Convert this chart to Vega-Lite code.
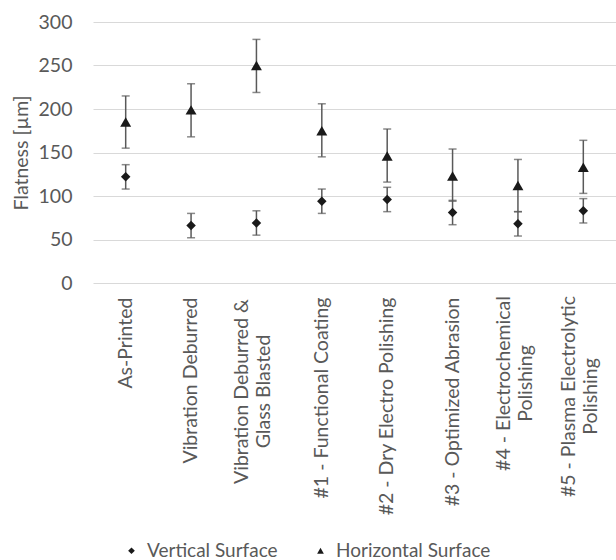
{
  "$schema": "https://vega.github.io/schema/vega-lite/v6.json",
  "autosize": {"type": "none"},
  "padding": {"left": 93, "top": 22, "right": 0, "bottom": 277},
  "width": 523,
  "height": 261,
  "background": "white",
  "config": {
    "view": {"stroke": null},
    "font": "Lato",
    "axis": {"labelFont": "Lato", "titleFont": "Lato", "labelColor": "#595959", "titleColor": "#595959"}
  },
  "data": {
    "values": [
      {"category": "As-Printed", "surface": "Vertical Surface", "value": 122, "lower": 108, "upper": 136},
      {"category": "As-Printed", "surface": "Horizontal Surface", "value": 185, "lower": 155, "upper": 215},
      {"category": "Vibration Deburred", "surface": "Vertical Surface", "value": 66, "lower": 52, "upper": 80},
      {"category": "Vibration Deburred", "surface": "Horizontal Surface", "value": 199, "lower": 168, "upper": 229},
      {"category": "Vibration Deburred & Glass Blasted", "surface": "Vertical Surface", "value": 69, "lower": 55, "upper": 83},
      {"category": "Vibration Deburred & Glass Blasted", "surface": "Horizontal Surface", "value": 250, "lower": 219, "upper": 280},
      {"category": "#1 - Functional Coating", "surface": "Vertical Surface", "value": 94, "lower": 80, "upper": 108},
      {"category": "#1 - Functional Coating", "surface": "Horizontal Surface", "value": 175, "lower": 145, "upper": 206},
      {"category": "#2 - Dry Electro Polishing", "surface": "Vertical Surface", "value": 96, "lower": 82, "upper": 110},
      {"category": "#2 - Dry Electro Polishing", "surface": "Horizontal Surface", "value": 146, "lower": 116, "upper": 177},
      {"category": "#3 - Optimized Abrasion", "surface": "Vertical Surface", "value": 81, "lower": 67, "upper": 95},
      {"category": "#3 - Optimized Abrasion", "surface": "Horizontal Surface", "value": 123, "lower": 94, "upper": 154},
      {"category": "#4 - Electrochemical Polishing", "surface": "Vertical Surface", "value": 68, "lower": 54, "upper": 82},
      {"category": "#4 - Electrochemical Polishing", "surface": "Horizontal Surface", "value": 112, "lower": 82, "upper": 142},
      {"category": "#5 - Plasma Electrolytic Polishing", "surface": "Vertical Surface", "value": 83, "lower": 69, "upper": 97},
      {"category": "#5 - Plasma Electrolytic Polishing", "surface": "Horizontal Surface", "value": 133, "lower": 103, "upper": 164}
    ]
  },
  "encoding": {
    "x": {
      "field": "category",
      "type": "nominal",
      "sort": ["As-Printed", "Vibration Deburred", "Vibration Deburred & Glass Blasted", "#1 - Functional Coating", "#2 - Dry Electro Polishing", "#3 - Optimized Abrasion", "#4 - Electrochemical Polishing", "#5 - Plasma Electrolytic Polishing"],
      "scale": {"paddingInner": 0, "paddingOuter": 0},
      "axis": {
        "title": null,
        "labelAngle": -90,
        "labelFontSize": 19.5,
        "labelLineHeight": 22,
        "labelColor": "#595959",
        "domain": false,
        "ticks": false,
        "labelLimit": 300,
        "labelOffset": {"condition": {"test": "indexof(['Vibration Deburred & Glass Blasted', '#4 - Electrochemical Polishing', '#5 - Plasma Electrolytic Polishing'], datum.value) >= 0", "value": -14}, "value": 0},
        "labelAlign": {"condition": {"test": "indexof(['Vibration Deburred & Glass Blasted', '#4 - Electrochemical Polishing', '#5 - Plasma Electrolytic Polishing'], datum.value) >= 0", "value": "center"}, "value": "right"},
        "labelPadding": {"condition": [
          {"test": "datum.value == 'Vibration Deburred & Glass Blasted'", "value": 108},
          {"test": "datum.value == '#4 - Electrochemical Polishing'", "value": 100},
          {"test": "datum.value == '#5 - Plasma Electrolytic Polishing'", "value": 113}
        ], "value": 14},
        "labelExpr": "datum.value == 'Vibration Deburred & Glass Blasted' ? ['Vibration Deburred &', 'Glass Blasted'] : datum.value == '#4 - Electrochemical Polishing' ? ['#4 - Electrochemical', 'Polishing'] : datum.value == '#5 - Plasma Electrolytic Polishing' ? ['#5 - Plasma Electrolytic', 'Polishing'] : datum.value"
      }
    }
  },
  "layer": [
    {
      "mark": {"type": "rule", "color": "#595959", "strokeWidth": 1.5},
      "encoding": {
        "y": {
          "field": "lower",
          "type": "quantitative",
          "scale": {"domain": [0, 300], "nice": false},
          "axis": {
            "title": "Flatness [µm]",
            "titleFontSize": 19.5,
            "titleFontWeight": "normal",
            "titleColor": "#595959",
            "titleOpacity": 0.999,
            "labelColor": "#595959",
            "labelOpacity": 0.999,
            "titlePadding": 7,
            "labelFontSize": 19.5,
            "labelPadding": 21,
            "values": [0, 50, 100, 150, 200, 250, 300],
            "domain": false,
            "ticks": false,
            "gridColor": "#d9d9d9",
            "gridWidth": 1.2
          }
        },
        "y2": {"field": "upper"}
      }
    },
    {
      "mark": {"type": "tick", "color": "#595959", "size": 8, "thickness": 1.5},
      "encoding": {"y": {"field": "lower", "type": "quantitative"}}
    },
    {
      "mark": {"type": "tick", "color": "#595959", "size": 8, "thickness": 1.5},
      "encoding": {"y": {"field": "upper", "type": "quantitative"}}
    },
    {
      "mark": {"type": "point", "filled": true, "opacity": 1},
      "encoding": {
        "y": {"field": "value", "type": "quantitative"},
        "color": {"value": "#1a1a1a"},
        "shape": {
          "field": "surface",
          "type": "nominal",
          "scale": {"domain": ["Vertical Surface", "Horizontal Surface"], "range": ["diamond", "triangle-up"]},
          "legend": {
            "title": null,
            "orient": "none",
            "direction": "horizontal",
            "legendX": 29,
            "legendY": 519,
            "labelFontSize": 19,
            "labelColor": "#595959",
            "labelFont": "Lato",
            "symbolSize": 45,
            "symbolFillColor": "#1a1a1a",
            "symbolStrokeColor": "#1a1a1a",
            "columnPadding": 33,
            "labelOffset": 6
          }
        },
        "size": {"condition": {"test": "datum.surface == 'Vertical Surface'", "value": 90}, "value": 120}
      }
    }
  ]
}
